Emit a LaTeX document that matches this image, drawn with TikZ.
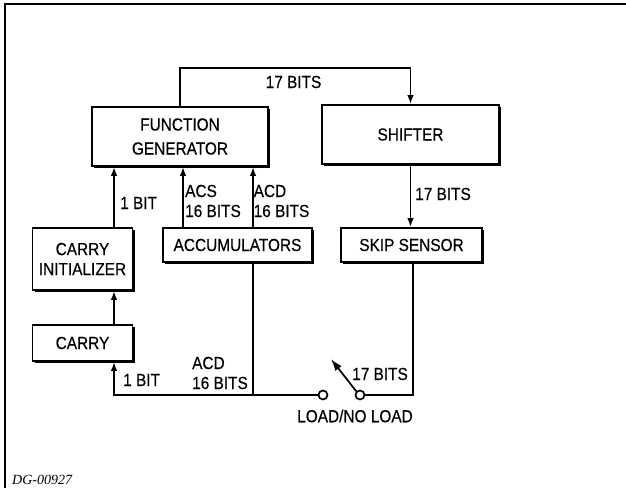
\documentclass[tikz,border=0pt]{standalone}
\usepackage{fontspec}
\setmainfont{Liberation Sans}[FakeStretch=0.88, FakeBold=0.4]
\newfontfamily\tagfont{Liberation Serif}
\usetikzlibrary{arrows.meta,shadows}

\tikzset{
  unit/.style={draw, line width=1.7pt, fill=white, inner sep=0pt, align=center,
    drop shadow={shadow xshift=2.4pt, shadow yshift=-2.4pt, opacity=1, fill=black}},
  bits/.style={anchor=west, inner sep=0pt, align=left},
  wire/.style={line width=1.7pt},
  contact/.style={draw, circle, fill=white, line width=1.7pt, minimum size=9pt, inner sep=0pt},
}

\begin{document}
\begin{tikzpicture}[x=1pt, y=-1pt, font=\fontsize{17.5}{20}\selectfont,
    >={Latex[length=9pt,width=6.5pt]}]
    \useasboundingbox (0,0) rectangle (626,488);

    % Frame
    % ---------------------
    \draw[line width=1.6pt] (626,4) -- (5,4) -- (5,488);

    % Units
    % ---------------------
    \node[unit, minimum width=176pt, minimum height=59pt, font=\fontsize{17.5}{24}\selectfont] (fg) at (180,136.5) {FUNCTION\\GENERATOR};
    \node[unit, minimum width=177pt, minimum height=59pt] (shifter) at (410.5,134.5) {SHIFTER};
    \node[unit, minimum width=100pt, minimum height=62pt] (carryinit) at (82.5,259) {CARRY\\INITIALIZER};
    \node[unit, minimum width=149pt, minimum height=34pt] (acc) at (237.5,245) {ACCUMULATORS};
    \node[unit, minimum width=141pt, minimum height=34pt] (skip) at (411.5,245) {SKIP SENSOR};
    \node[unit, minimum width=100pt, minimum height=36pt] (carry) at (82.5,343) {CARRY};

    % Bus points and switch
    % ---------------------
    \coordinate (jl) at (114,395);
    \coordinate (ja) at (253,395);
    \coordinate (xacs) at (183,395);
    \coordinate (jr) at (413,395);
    \coordinate (sw) at (331,359);
    \node[contact] (sl) at (323,395) {};
    \node[contact] (sr) at (360,395) {};

    % Connectors
    % ---------------------
    \draw[wire, ->] (fg.north) -- ++(0,-38) -| (shifter.north);
    \draw[wire, ->] (shifter.south) -- (shifter.south |- skip.north);
    \draw[wire, ->] (carryinit.north -| jl) -- (fg.south -| jl);
    \draw[wire, ->] (carry.north -| jl) -- (carryinit.south -| jl);
    \draw[wire, ->] (acc.north -| xacs) -- (fg.south -| xacs);
    \draw[wire, ->] (acc.north -| ja) -- (fg.south -| ja);
    \draw[wire] (acc.south -| ja) -- (ja);
    \draw[wire, ->] (sl.west) -- (jl) -- (jl |- carry.south);
    \draw[wire] (skip.south -| jr) -- (jr) -- (sr.east);
    \draw[wire, ->, >={Latex[length=12pt,width=8pt]}] (sr.north west) -- (sw);

    % Labels
    % ---------------------
    \node[inner sep=0pt] (t17a) at (293.5,82) {17 BITS};
    \node[bits] (t1a) at (120,203) {1 BIT};
    \node[bits] (tacs) at (185,201) {ACS\\16 BITS};
    \node[bits] (tacd) at (253.5,201) {ACD\\16 BITS};
    \node[bits] (t17b) at (415,194) {17 BITS};
    \node[bits] (tacd2) at (192,373) {ACD\\16 BITS};
    \node[bits] (t1b) at (123,380) {1 BIT};
    \node[bits] (t17c) at (352,374) {17 BITS};
    \node[inner sep=0pt] (tload) at (355,416) {LOAD/NO LOAD};
    \node[anchor=base west, inner sep=0pt, font=\tagfont\itshape\fontsize{14}{16}\selectfont] (tag) at (12,484) {DG-00927};
\end{tikzpicture}
\end{document}
